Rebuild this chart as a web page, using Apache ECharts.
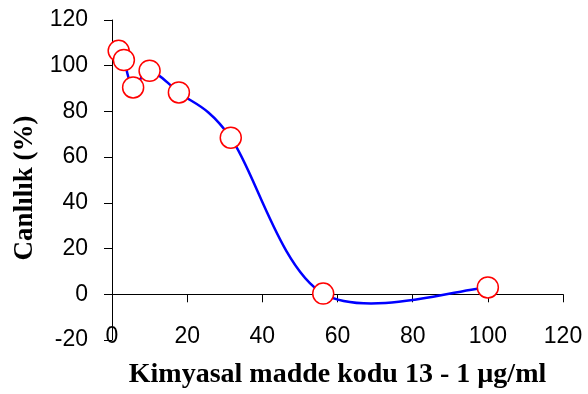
<!DOCTYPE html>
<html>
<head>
<meta charset="utf-8">
<script src="https://cdn.jsdelivr.net/npm/echarts@6/dist/echarts.min.js"></script>
<style>
html, body { margin: 0; padding: 0; background: #fff; }
#main { width: 588px; height: 394px; }
</style>
</head>
<body>
<div id="main"></div>
<script>
// konsantrasyon (µg/ml) ve canlılık (%)
const concentrations = [1.78, 3.16, 5.62, 10, 17.8, 31.6, 56.2, 100];
const viability = [106.5, 102.5, 90.5, 97.8, 88.3, 68.5, 0.3, 3];

const xTitle = 'Kimyasal madde kodu 13 - 1 µg/ml';
const yTitle = 'Canlılık (%)';

let chart = echarts.init(document.getElementById('main'));

const points = concentrations.map((c, i) => [c, viability[i]]);

// Excel tarzı yumuşatılmış çizgi: her segment i -> i+1, Catmull-Rom (1/6)
function renderSegment(params, api) {
    const i = params.dataIndex;
    const n = points.length;
    if (i >= n - 1) return null;
    const p = k => api.coord(points[Math.max(0, Math.min(n - 1, k))]);
    const p0 = p(i - 1), p1 = p(i), p2 = p(i + 1), p3 = p(i + 2);
    const c1 = [p1[0] + (p2[0] - p0[0]) / 6, p1[1] + (p2[1] - p0[1]) / 6];
    const c2 = [p2[0] - (p3[0] - p1[0]) / 6, p2[1] - (p3[1] - p1[1]) / 6];
    return {
        type: 'bezierCurve',
        shape: {
            x1: p1[0], y1: p1[1],
            cpx1: c1[0], cpy1: c1[1],
            cpx2: c2[0], cpy2: c2[1],
            x2: p2[0], y2: p2[1]
        },
        style: { fill: null, stroke: '#0000ff', lineWidth: 2.5 }
    };
}

chart.setOption({
    animation: false,
    grid: {
        left: 112,
        right: 25,
        top: 20,
        bottom: 54,
        outerBoundsMode: 'none'
    },
    xAxis: {
        type: 'value',
        min: 0,
        max: 120,
        interval: 20,
        name: xTitle,
        nameLocation: 'middle',
        nameGap: 21,
        nameTextStyle: {
            fontFamily: 'Liberation Serif',
            fontWeight: 'bold',
            fontSize: 28,
            color: '#000'
        },
        axisLine: { onZero: true, lineStyle: { color: '#000', width: 1 } },
        axisTick: { inside: false, length: 8, lineStyle: { color: '#000' } },
        axisLabel: {
            margin: -15,
            fontFamily: 'Liberation Sans',
            fontSize: 23,
            color: '#000'
        },
        splitLine: { show: false }
    },
    yAxis: {
        type: 'value',
        min: -20,
        max: 120,
        interval: 20,
        name: yTitle,
        nameLocation: 'middle',
        nameRotate: 90,
        nameGap: 70,
        nameTextStyle: {
            fontFamily: 'Liberation Serif',
            fontWeight: 'bold',
            fontSize: 27,
            color: '#000',
            padding: [0, 16, 0, 0]
        },
        axisLine: { show: true, lineStyle: { color: '#000', width: 1 } },
        axisTick: { show: true, length: 8, lineStyle: { color: '#000' } },
        axisLabel: {
            margin: 24,
            fontFamily: 'Liberation Sans',
            fontSize: 23,
            color: '#000'
        },
        splitLine: { show: false }
    },
    series: [{
        type: 'custom',
        data: points,
        renderItem: renderSegment,
        clip: false,
        z: 2
    }, {
        type: 'scatter',
        data: points,
        symbol: 'circle',
        symbolSize: 21,
        itemStyle: { color: '#fff', borderColor: '#ff0000', borderWidth: 1.5, opacity: 1 },
        z: 3
    }]
});
</script>
</body>
</html>
